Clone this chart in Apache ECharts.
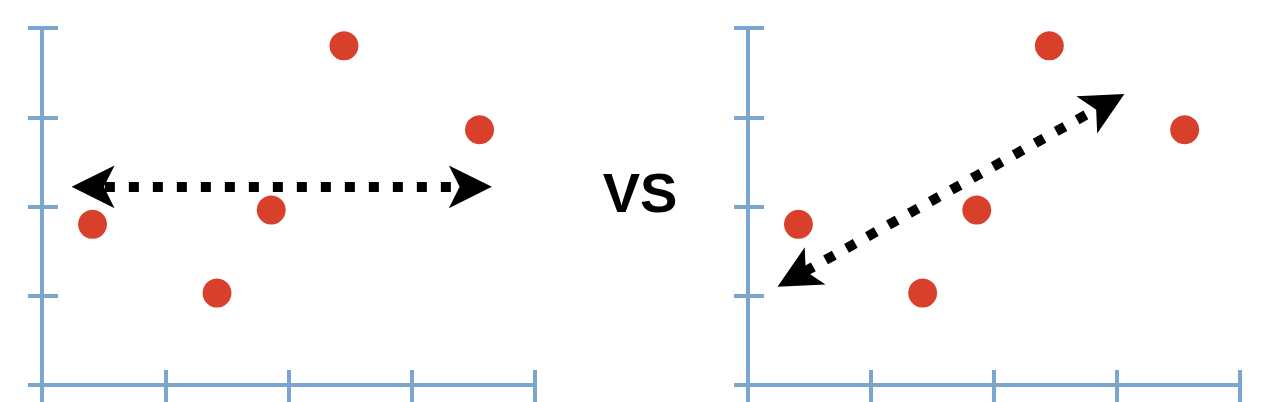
<!DOCTYPE html>
<html>
<head>
<meta charset="utf-8">
<script src="https://cdn.jsdelivr.net/npm/echarts@6/dist/echarts.min.js"></script>
<style>
  html, body { margin: 0; padding: 0; background: #fff; }
  #chart { width: 1280px; height: 402px; }
</style>
</head>
<body>
<div id="chart"></div>
<script>
// same five points shown in both panels (axis units 0..4)
var pointX = [0.41, 1.42, 1.86, 2.45, 3.55];
var pointY = [1.80, 1.03, 1.96, 3.80, 2.86];
// double arrows: tips of the heads, and the dotted shaft between them [x, y]
var leftTips = [[0.24, 2.22], [3.65, 2.22]];
var leftShaft = [[0.51, 2.22], [3.39, 2.22]];
var rightTips = [[0.24, 1.10], [3.06, 3.26]];
var rightShaft = [[0.46, 1.27], [2.83, 3.09]];
var axisMin = 0;
var axisMax = 4;
var axisStep = 1;

(function() {
  var axisColor = '#7aa6d0';
  var dotColor = '#d9402b';
  var ink = '#000000';

  var points = pointX.map(function(x, i) { return [x, pointY[i]]; });

  function axis(gridIndex, inside, len, withLine) {
    return {
      type: 'value',
      gridIndex: gridIndex,
      min: axisMin,
      max: axisMax,
      interval: axisStep,
      axisLine: { show: withLine, onZero: false, lineStyle: { color: axisColor, width: 4 } },
      axisTick: { show: true, inside: inside, length: len, lineStyle: { color: axisColor, width: 4 } },
      axisLabel: { show: false },
      splitLine: { show: false }
    };
  }

  // ticks cross the axis line, so each axis is drawn twice (outside + inside ticks)
  var xAxes = [], yAxes = [];
  [0, 1].forEach(function(g) {
    xAxes.push(Object.assign(axis(g, false, 17, true), { position: 'bottom' }));
    xAxes.push(Object.assign(axis(g, true, 15, false), { position: 'bottom' }));
    yAxes.push(Object.assign(axis(g, false, 14, true), { position: 'left' }));
    yAxes.push(Object.assign(axis(g, true, 16, false), { position: 'left' }));
  });

  function dots(g, tips) {
    return {
      type: 'scatter',
      xAxisIndex: g * 2,
      yAxisIndex: g * 2,
      symbolSize: 29,
      itemStyle: { color: dotColor, opacity: 1 },
      data: points,
      markLine: {
        silent: true,
        symbol: ['arrow', 'arrow'],
        symbolSize: [32, 43],
        label: { show: false },
        lineStyle: { color: ink, width: 0, type: 'solid', opacity: 1 },
        data: [[{ coord: tips[0] }, { coord: tips[1] }]]
      }
    };
  }

  function shaft(g, ends) {
    return {
      type: 'scatter',
      xAxisIndex: g * 2,
      yAxisIndex: g * 2,
      data: [],
      markLine: {
        silent: true,
        symbol: ['none', 'none'],
        label: { show: false },
        lineStyle: { color: ink, width: 10, type: [10, 14], opacity: 1 },
        data: [[{ coord: ends[0] }, { coord: ends[1] }]]
      }
    };
  }

  var chart = echarts.init(document.getElementById('chart'), null, { renderer: 'svg' });
  chart.setOption({
    animation: false,
    backgroundColor: '#ffffff',
    title: {
      text: 'VS',
      left: 'center',
      top: 159,
      textStyle: { color: ink, fontSize: 56, fontWeight: 'bold', fontFamily: 'Liberation Sans, Arial, sans-serif' }
    },
    grid: [
      { left: 42, top: 28, width: 493, bottom: 17 },
      { left: 748, top: 28, width: 492, bottom: 17 }
    ],
    xAxis: xAxes,
    yAxis: yAxes,
    series: [
      shaft(0, leftShaft), dots(0, leftTips),
      shaft(1, rightShaft), dots(1, rightTips)
    ]
  });
})();
</script>
</body>
</html>
